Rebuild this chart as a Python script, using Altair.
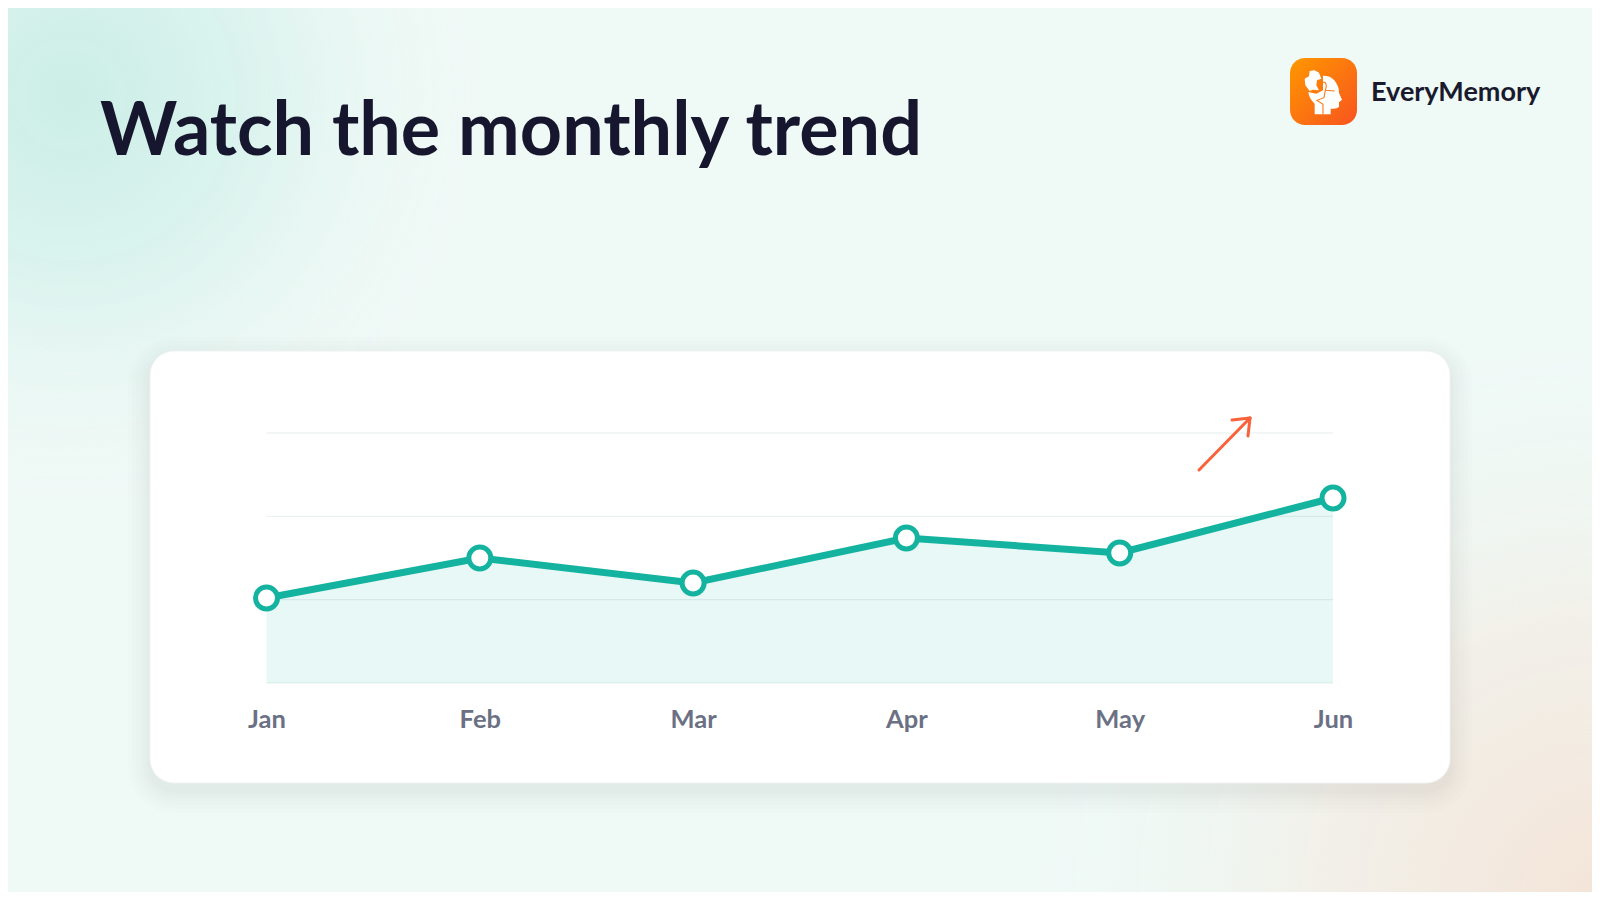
import altair as alt
import pandas as pd

months = ["Jan", "Feb", "Mar", "Apr", "May", "Jun"]
values = [34, 50, 40, 58, 52, 74]
grid_values = [0, 33.33, 66.67, 100]

FONT = "Lato"
TEAL = "#14b3a0"
PW, PH = 1066.5, 250
OX, OY = 266.5, 433  # plot origin on the page
RIGHT, BOTTOM = 1592, 892  # page edges of the 1584x884 chart

def px(x): return alt.value(x - OX)
def py(y): return alt.value(y - OY)

one = pd.DataFrame({"k": [0]})
df = pd.DataFrame({"month": months, "value": values})
gdf = pd.DataFrame({"v": grid_values})

def box(x0, y0, x1, y1, **mark):
    return alt.Chart(one).mark_rect(**mark).encode(x=px(x0), x2=px(x1), y=py(y0), y2=py(y1))

def seg(x0, y0, x1, y1, color="#f9623b", w=3):
    return alt.Chart(one).mark_rule(color=color, strokeWidth=w, strokeCap="round").encode(
        x=px(x0), x2=px(x1), y=py(y0), y2=py(y1))

def label(txt, x, y, size, color, weight="bold", align="left"):
    return alt.Chart(pd.DataFrame({"t": [txt]})).mark_text(
        font=FONT, fontSize=size, fontWeight=weight, color=color, align=align, baseline="alphabetic"
    ).encode(x=px(x), y=py(y), text="t:N")

def radial(cx_page, cy_page, r_px, stops):
    # Vega maps a radial gradient on a unit square that covers the rect, centred on it
    W, H = RIGHT - 8, BOTTOM - 8
    cx = (cx_page - 8) / W
    cy = (cy_page - 8 + (W - H) / 2) / W
    return alt.Gradient(gradient="radial", x1=cx, y1=cy, r1=0, x2=cx, y2=cy, r2=r_px / W,
                        stops=[alt.GradientStop(offset=o, color=c) for o, c in stops])

layers = [box(8, 8, RIGHT, BOTTOM, color="#eff9f6")]
layers.append(box(8, 8, RIGHT, BOTTOM, color=radial(
    70, 95, 410,
    [(0, "rgba(203,238,231,1)"), (0.45, "rgba(212,241,235,0.72)"), (1, "rgba(239,249,246,0)")])))
layers.append(box(8, 8, RIGHT, BOTTOM, color=radial(
    1600, 900, 560,
    [(0, "rgba(244,228,216,1)"), (0.5, "rgba(243,236,227,0.7)"), (1, "rgba(239,249,246,0)")])))

for e in [22, 18, 14, 10, 7, 4, 2]:
    layers.append(box(150 - e, 351 - e + 8, 1450 + e, 783 + e + 8, color="#16302c", opacity=0.006,
                      cornerRadius=24 + e))
layers.append(box(150, 351, 1450, 783, color="#ffffff", cornerRadius=24,
                  stroke="#f0f2f1", strokeWidth=1))

x_enc = alt.X("month:N", sort=months, title=None,
              scale=alt.Scale(type="point", padding=0),
              axis=alt.Axis(zindex=1, domain=False, ticks=False, grid=False, labelAngle=0,
                            labelFont=FONT, labelFontSize=25.5, labelFontWeight="bold",
                            labelColor="#6b7084", labelPadding=24))
y_enc = alt.Y("value:Q", title=None, scale=alt.Scale(domain=[0, 100]), axis=None)

layers.append(alt.Chart(gdf).mark_rule(color="#e7eded", strokeWidth=1).encode(
    y=alt.Y("v:Q", scale=alt.Scale(domain=[0, 100]), axis=None), x=alt.value(0), x2=alt.value(PW)))
layers.append(alt.Chart(df).mark_area(color="#14b8a6", opacity=0.1).encode(x=x_enc, y=y_enc))
layers.append(alt.Chart(df).mark_line(color=TEAL, strokeWidth=7).encode(x=x_enc, y=y_enc))
layers.append(alt.Chart(df).mark_point(filled=True, fill="#ffffff", stroke=TEAL, strokeWidth=5,
                                       size=484, opacity=1).encode(x=x_enc, y=y_enc))

layers += [seg(1199, 470, 1250, 418), seg(1232, 420, 1250, 418), seg(1248, 436, 1250, 418)]

# logo
layers.append(box(1290, 58, 1357, 125, cornerRadius=15, color=alt.Gradient(
    gradient="linear", x1=0, y1=0, x2=1, y2=1,
    stops=[alt.GradientStop(offset=0, color="#ff9800"), alt.GradientStop(offset=1, color="#f8541f")])))

def P(x, y):
    return f"{(x - 190) / 66:.3f},{(y - 155) / 66:.3f}"

blob = ("M" + P(150, 92) + "L" + P(165, 90) + "L" + P(178, 97) + "L" + P(185, 115) + "L" + P(172, 120)
        + "L" + P(170, 135) + "L" + P(178, 150) + "L" + P(160, 148) + "L" + P(150, 152) + "L" + P(137, 135)
        + "L" + P(135, 115) + "L" + P(148, 108) + "Z")
head = ("M" + P(190, 106) + "Q" + P(225, 105) + " " + P(237, 145) + "L" + P(238, 158) + "L" + P(247, 178)
        + "L" + P(238, 186) + "L" + P(238, 200) + "Q" + P(232, 207) + " " + P(213, 205) + "L" + P(213, 222)
        + "L" + P(165, 222) + "L" + P(165, 190) + "Q" + P(148, 175) + " " + P(146, 155)
        + "L" + P(170, 160) + "L" + P(190, 150) + "Z")
seam = ("M" + P(190, 125) + "Q" + P(205, 125) + " " + P(197, 150) + "L" + P(225, 152)
        + "M" + P(197, 150) + "L" + P(193, 172) + "L" + P(172, 180) + "L" + P(190, 192) + "L" + P(190, 222))

def glyph(path, filled=True):
    mark = dict(shape=path, size=1936, opacity=1)
    if filled:
        mark.update(filled=True, fill="#ffffff", strokeWidth=0)
    else:
        mark.update(filled=False, stroke="#fb7a14", strokeWidth=1.1)
    return alt.Chart(one).mark_point(**mark).encode(x=px(1323), y=py(92))

layers += [glyph(blob), glyph(head), glyph(seam, filled=False)]

layers.append(label("EveryMemory", 1371, 101, 27, "#1a1a2e"))
layers.append(label("Watch the monthly trend", 100, 155, 73.7, "#16162e"))

chart = alt.layer(*layers).properties(
    width=PW, height=PH,
    background="#eff9f6",
    padding={"left": OX - 8, "top": OY - 8, "right": RIGHT - OX - PW, "bottom": BOTTOM - OY - PH},
    autosize=alt.AutoSizeParams(type="none"),
).configure_view(stroke=None)

chart.save("out.html", embed_options={"renderer": "svg", "actions": False})
